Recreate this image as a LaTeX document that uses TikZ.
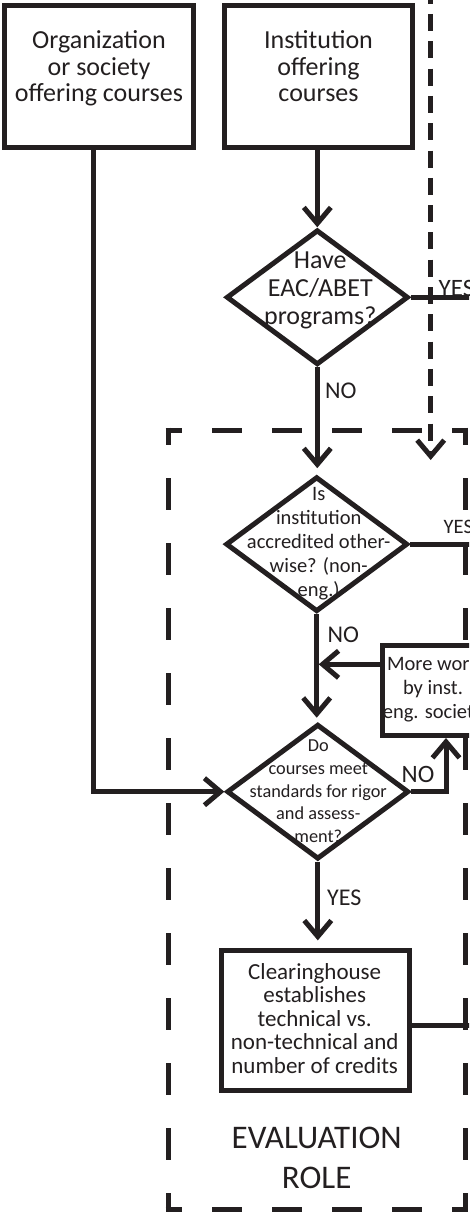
\documentclass[tikz,border=0pt]{standalone}
\usepackage{fontspec}
\setmainfont{Carlito}
\usetikzlibrary{arrows.meta,shapes.geometric,calc}
\definecolor{ink}{RGB}{35,31,32}
\newcommand{\ztxt}[4]{\makebox[0pt]{\kern#1\smash{\raisebox{#2}{#3\begin{tabular}[t]{@{}c@{}}#4\end{tabular}}}}}
\tikzset{
  box/.style={draw=ink, text=ink, line width=5pt, fill=white, rectangle, inner sep=0pt},
  dia/.style={draw=ink, text=ink, line width=5pt, fill=white, diamond, inner sep=0pt, minimum width=182pt, minimum height=135pt},
  conn/.style={draw=ink, line width=5pt},
  tipstyle/.style={-{Straight Barb[length=16pt,width=27pt]}},
  arr/.style={conn, tipstyle},
  lbl/.style={inner sep=0pt, anchor=base west, text=ink},
  evdash/.style={draw=ink, line width=5pt},
}
\begin{document}
\begin{tikzpicture}[x=1pt,y=-1pt]
\useasboundingbox (0,0) rectangle (469,1215);
\clip (0,0) rectangle (469,1215);
% evaluation role dashed frame
\draw[evdash, dash pattern=on 30pt off 30pt, dash phase=13.5pt] (165.5,430) -- (467.5,430);
\draw[evdash, dash pattern=on 30pt off 30pt, dash phase=13.5pt] (165.5,1209.5) -- (467.5,1209.5);
\draw[evdash, dash pattern=on 32pt off 33pt, dash phase=14.5pt] (168,427.5) -- (168,1212);
\draw[evdash, dash pattern=on 32pt off 33pt, dash phase=14.5pt] (465,427.5) -- (465,1212);
% nodes
\node[box, minimum width=189pt, minimum height=142pt] (org) at (99,76.5)
  {\ztxt{0pt}{28.2pt}{\fontsize{26}{26.7}\selectfont}{Organization\\or society\\offering courses}};
\node[box, minimum width=188pt, minimum height=142pt] (inst) at (318.5,76.5)
  {\ztxt{0pt}{28.2pt}{\fontsize{26}{26.7}\selectfont}{Institution\\offering\\courses}};
\node[dia] (dia1) at (317.3,297.3)
  {\ztxt{6pt}{29pt}{\fontsize{26}{28.3}\selectfont}{Have\\EAC/ABET\\programs?}};
\node[dia] (dia2) at (316.7,544.2)
  {\ztxt{4pt}{44.2pt}{\fontsize{20.5}{24.2}\selectfont}{Is\\institution\\accredited other-\\wise? (non-\\eng.)}};
\node[dia] (dia3) at (317.8,791.7)
  {\ztxt{1pt}{40pt}{\fontsize{18.3}{22.7}\selectfont}{Do\\courses meet\\standards for rigor\\and assess-\\ment?}};
\node[box, minimum width=101pt, minimum height=90pt] (more) at (433,690.5)
  {\ztxt{0pt}{20.5pt}{\fontsize{20.5}{24}\selectfont}{More work\\by inst.\\eng. society}};
\node[box, minimum width=187.4pt, minimum height=139.7pt] (clear) at (315.5,1020.7)
  {\ztxt{-1.6pt}{41.4pt}{\fontsize{23}{23.5}\selectfont}{Clearinghouse\\establishes\\technical vs.\\non-technical and\\number of credits}};
\node[inner sep=0pt, text=ink] (eval) at (316.7,1168)
  {\ztxt{0pt}{19.7pt}{\fontsize{33}{40}\selectfont}{EVALUATION\\ROLE}};
% labels
\node[lbl, font=\fontsize{25}{25}\selectfont] (yes1) at (438.5,296.5) {YES};
\node[lbl, font=\fontsize{24}{24}\selectfont] (no1) at (325,398.3) {NO};
\node[lbl, font=\fontsize{20.5}{20.5}\selectfont] (yes2) at (443.5,533.3) {YES};
\node[lbl, font=\fontsize{24}{24}\selectfont] (no2) at (327.3,642.7) {NO};
\node[lbl, font=\fontsize{25}{25}\selectfont] (no3) at (401.5,782.7) {NO};
\node[lbl, font=\fontsize{24}{24}\selectfont] (yes3) at (327,905.7) {YES};
% free ends
\coordinate (dtop) at (430.7,-13.3);
\coordinate (dend) at (430.7,460);
\coordinate (r1) at (480,297.3);
\coordinate (r2) at (480,544.2);
\coordinate (r3) at (480,1025.7);
% connectors
\draw[conn, dash pattern=on 17pt off 10.3pt, tipstyle] (dtop) -- (dend);
\draw[arr] (inst.south -| dia1.north) -- (dia1.north);
\draw[conn] (dia1.east) -- (r1);
\draw[arr, shorten >=6pt] (dia1.south) -- (dia1.south |- dia2.north);
\draw[conn] (dia2.east) -- (r2);
\draw[arr, shorten >=4pt] (dia2.south) -- (dia2.south |- dia3.north);
\draw[arr, shorten >=2pt] ([yshift=26.2pt]more.west) -- ([yshift=26.2pt]more.west -| dia2.south);
\draw[arr] ([xshift=-6pt]org.south) |- (dia3.west);
\draw[arr] (dia3.east) -| ([xshift=66pt]more.south west);
\draw[arr, shorten >=8pt] (dia3.south) -- (dia3.south |- clear.north);
\draw[conn] ([yshift=-5pt]clear.east) -- (r3);
\end{tikzpicture}
\end{document}
